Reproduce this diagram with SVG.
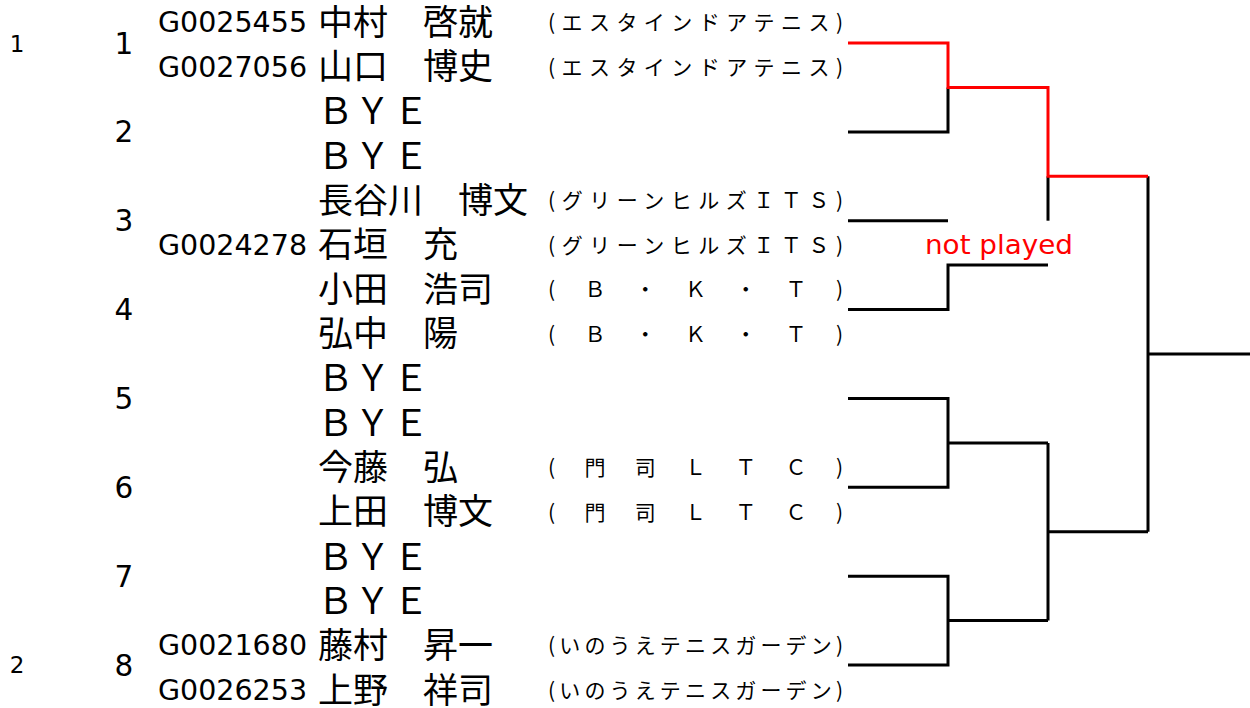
<svg xmlns="http://www.w3.org/2000/svg" width="1250" height="708" viewBox="0 0 1250 708">
<style>
.seed{font-family:"DejaVu Sans","Noto Sans CJK JP",sans-serif;font-size:23px;fill:#000;text-anchor:middle}
.num{font-family:"DejaVu Sans","Noto Sans CJK JP",sans-serif;font-size:29.5px;fill:#000;text-anchor:middle}
.id{font-family:"DejaVu Sans","Noto Sans CJK JP",sans-serif;font-size:28.5px;fill:#000}
.nm{font-family:"Noto Sans CJK JP",sans-serif;font-size:35px;fill:#000}
.bye{font-family:"Noto Sans CJK JP",sans-serif;font-size:36px;fill:#000;text-anchor:middle}
.club{font-family:"Noto Sans CJK JP",sans-serif;font-size:21px;fill:#000}
.np{font-family:"DejaVu Sans","Noto Sans CJK JP",sans-serif;font-size:27px;fill:#ff0000;text-anchor:middle}
.blk{fill:none;stroke:#000;stroke-width:3}
.red{fill:none;stroke:#ff0000;stroke-width:3}
</style>
<g id="seeds">
<text class="seed" x="17" y="52">1</text>
<text class="seed" x="17" y="673">2</text>
</g>
<g id="draw-numbers">
<text class="num" x="124" y="53.5">1</text>
<text class="num" x="124" y="142">2</text>
<text class="num" x="124" y="231">3</text>
<text class="num" x="124" y="320">4</text>
<text class="num" x="124" y="409">5</text>
<text class="num" x="124" y="498">6</text>
<text class="num" x="124" y="587">7</text>
<text class="num" x="124" y="676">8</text>
</g>
<g id="entry1">
<text class="id" x="158" y="32">G0025455</text>
<text class="nm" x="318" y="34.5">中村　啓就</text>
<text class="club" x="548" y="30" textLength="295" lengthAdjust="spacing">(エスタインドアテニス)</text>
<text class="id" x="158" y="76.5">G0027056</text>
<text class="nm" x="318" y="79">山口　博史</text>
<text class="club" x="548" y="74.5" textLength="295" lengthAdjust="spacing">(エスタインドアテニス)</text>
</g>
<g id="entry2">
<text class="bye" x="335.5 372.5 411" y="124.3">ＢＹＥ</text>
<text class="bye" x="335.5 372.5 411" y="168.8">ＢＹＥ</text>
</g>
<g id="entry3">
<text class="nm" x="318" y="212.6">長谷川　博文</text>
<text class="club" x="548" y="208.1" textLength="295" lengthAdjust="spacing">(グリーンヒルズＩＴＳ)</text>
<text class="id" x="158" y="254.7">G0024278</text>
<text class="nm" x="318" y="257.2">石垣　充</text>
<text class="club" x="548" y="252.7" textLength="295" lengthAdjust="spacing">(グリーンヒルズＩＴＳ)</text>
</g>
<g id="entry4">
<text class="nm" x="318" y="301.7">小田　浩司</text>
<text class="club" x="548" y="297.2" textLength="295" lengthAdjust="spacing">(Ｂ・Ｋ・Ｔ)</text>
<text class="nm" x="318" y="346.2">弘中　陽</text>
<text class="club" x="548" y="341.7" textLength="295" lengthAdjust="spacing">(Ｂ・Ｋ・Ｔ)</text>
</g>
<g id="entry5">
<text class="bye" x="335.5 372.5 411" y="391.4">ＢＹＥ</text>
<text class="bye" x="335.5 372.5 411" y="436">ＢＹＥ</text>
</g>
<g id="entry6">
<text class="nm" x="318" y="479.8">今藤　弘</text>
<text class="club" x="548" y="475.3" textLength="295" lengthAdjust="spacing">(門司ＬＴＣ)</text>
<text class="nm" x="318" y="524.3">上田　博文</text>
<text class="club" x="548" y="519.8" textLength="295" lengthAdjust="spacing">(門司ＬＴＣ)</text>
</g>
<g id="entry7">
<text class="bye" x="335.5 372.5 411" y="569.6">ＢＹＥ</text>
<text class="bye" x="335.5 372.5 411" y="614.1">ＢＹＥ</text>
</g>
<g id="entry8">
<text class="id" x="158" y="655.4">G0021680</text>
<text class="nm" x="318" y="657.9">藤村　昇一</text>
<text class="club" x="548" y="653.4" textLength="295" lengthAdjust="spacing">(いのうえテニスガーデン)</text>
<text class="id" x="158" y="700">G0026253</text>
<text class="nm" x="318" y="702.5">上野　祥司</text>
<text class="club" x="548" y="698" textLength="295" lengthAdjust="spacing">(いのうえテニスガーデン)</text>
</g>
<g id="connectors">
<path class="blk" d="M848,131.9 H948 V87.4"/>
<path class="blk" d="M1048,176.3 V220.7"/>
<path class="blk" d="M848,220.7 H948"/>
<path class="blk" d="M848,309.6 H948 V265.1 H1048"/>
<path class="blk" d="M848,398.4 H948 V487.3 H848 M948,442.9 H1048"/>
<path class="blk" d="M848,576.2 H948 V665 H848 M948,620.6 H1048"/>
<path class="blk" d="M1048,442.9 V620.6 M1048,531.7 H1148"/>
<path class="blk" d="M1148,176.3 V531.7 M1148,354 H1250"/>
<path class="red" d="M848,43 H948 V87.4 H1048 V176.3 H1148"/>
<text class="np" x="999" y="254" textLength="148" lengthAdjust="spacingAndGlyphs">not played</text>
</g>
</svg>
